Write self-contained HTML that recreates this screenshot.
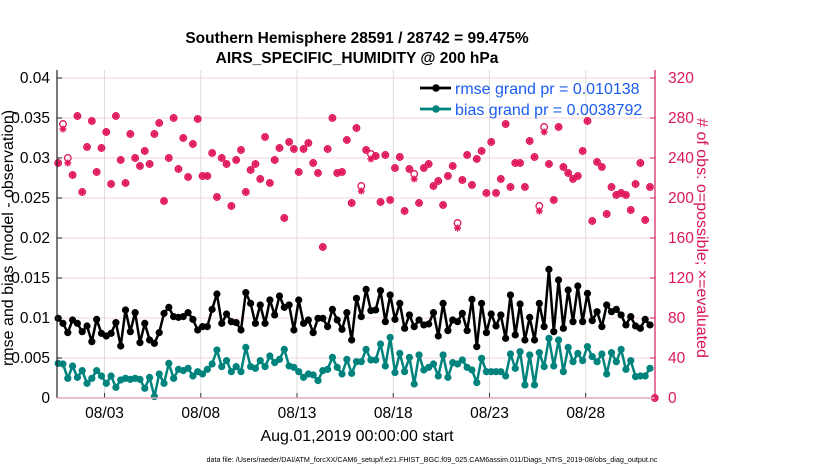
<!DOCTYPE html>
<html><head><meta charset="utf-8"><style>
body{margin:0;background:#fff;}
svg{display:block;font-family:"Liberation Sans",sans-serif;}
</style></head><body>
<svg id="chart" width="830" height="470" viewBox="0 0 830 470">
<g id="grid"></g>
<g id="marks"></g>
<g id="axes"></g>
<text x="357" y="43" text-anchor="middle" font-size="15.5" font-weight="bold">Southern Hemisphere 28591 / 28742 = 99.475%</text>
<text x="357" y="63" text-anchor="middle" font-size="15.5" font-weight="bold">AIRS_SPECIFIC_HUMIDITY @ 200 hPa</text>
<text transform="translate(13,238) rotate(-90)" text-anchor="middle" font-size="16">rmse and bias (model - observation)</text>
<text transform="translate(697,238) rotate(90)" text-anchor="middle" font-size="16" fill="#d9175a"># of obs: o=possible; ×=evaluated</text>
<text x="357" y="441" text-anchor="middle" font-size="16">Aug.01,2019 00:00:00 start</text>
<text x="432" y="462" text-anchor="middle" font-size="7.2">data file: /Users/raeder/DAI/ATM_forcXX/CAM6_setup/f.e21.FHIST_BGC.f09_025.CAM6assim.011/Diags_NTrS_2019-08/obs_diag_output.nc</text>
<g>
<g>
<line x1="420" y1="88" x2="451" y2="88" stroke="#000" stroke-width="2.8"/>
<circle cx="436" cy="88" r="3.8" fill="#000"/>
<text x="455" y="94" font-size="16" fill="#1a5cf0">rmse grand pr = 0.010138</text>
</g>
<g>
<line x1="420" y1="109" x2="451" y2="109" stroke="#00837d" stroke-width="2.8"/>
<circle cx="436" cy="109" r="3.8" fill="#00837d"/>
<text x="455" y="115" font-size="16" fill="#1a5cf0">bias grand pr = 0.0038792</text>
</g>
</g>
</svg>
<script>
const rmse=[.00996,.00933,.00817,.00975,.00933,.00829,.0090,.00704,.00983,.00808,.00775,.00808,.00942,.0065,.0110,.00829,.01067,.00692,.00933,.00725,.00683,.00817,.01058,.01133,.01017,.01008,.01017,.01067,.00983,.0085,.00892,.00892,.01108,.013,.00933,.0105,.00954,.00942,.0085,.01317,.01183,.00933,.01163,.00933,.01225,.01038,.01275,.01133,.01163,.0085,.01225,.00933,.00975,.00817,.00996,.00996,.00892,.01108,.00975,.00858,.01067,.00725,.01246,
.01017,.01358,.01092,.011,.01342,.00954,.01288,.00983,.01183,.00871,.01038,.00892,.00975,.00913,.00925,.01067,.00775,.01183,.00842,.00975,.00954,.01058,.00842,.01233,.00642,.01183,.00817,.0105,.009,.01038,.00746,.01288,.00788,.01175,.00725,.01008,.00725,.01183,.00892,.01608,.00829,.01475,.00871,.0135,.00954,.014,.00954,.01308,.00967,.01079,.00892,.01163,.01079,.01108,.01038,.00913,.01017,.009,.00871,.00983,.00913];
const bias=[.00433,.00425,.00246,.004,.00258,.00342,.00183,.00246,.00342,.00275,.00183,.00275,.00133,.00225,.00246,.00233,.00246,.00233,.00121,.00258,.00017,.003,.00183,.00433,.00246,.00358,.00342,.00371,.00275,.00329,.003,.00358,.00425,.006,.00392,.00467,.00329,.00392,.00329,.00633,.00392,.00371,.00467,.00392,.00525,.00442,.00483,.00608,.004,.00383,.00329,.00258,.003,.00288,.00217,.00342,.00358,.00508,.00383,.003,.00483,.00308,.00454,
.00454,.00608,.00475,.00475,.00675,.004,.00758,.00317,.00558,.00329,.00508,.00175,.00538,.0035,.00383,.00425,.00275,.00538,.00258,.00442,.00425,.00475,.00383,.0035,.00192,.00496,.00329,.00329,.00329,.00329,.00275,.0055,.00371,.00579,.00163,.00538,.00163,.00567,.00392,.00746,.004,.00725,.00329,.00633,.00454,.00558,.00467,.00642,.00517,.00454,.0055,.003,.00567,.00454,.00608,.00358,.00467,.00267,.00275,.00275,.00371];
const possible=[235,274,240,223,282,206,251,277,226,250,266,214,282,238,215,264,240,232,247,234,264,275,197,240,280,229,260,221,254,279,222,222,245,201,240,234,192,238,248,206,228,234,219,261,215,238,250,180,256,249,226,249,255,235,225,151,249,280,225,226,258,195,270,
212,248,244,242,196,243,198,230,241,187,229,224,195,230,234,212,217,193,222,232,175,218,243,213,239,247,205,256,205,219,274,211,235,235,211,257,241,192,271,234,198,271,231,225,219,222,247,277,177,236,231,184,211,203,205,203,188,214,235,178,211,0];
const evaluated=possible.map((v,i)=>[1,2,63,65,74,83,100,101].includes(i)?v-5:v);
const leftTicks=[0,0.005,0.01,0.015,0.02,0.025,0.03,0.035,0.04];
const leftTickLabels=["0","0.005","0.01","0.015","0.02","0.025","0.03","0.035","0.04"];
const rightTicks=[0,40,80,120,160,200,240,280,320];
const xTickDays=[2,7,12,17,22,27];
const xTickLabels=["08/03","08/08","08/13","08/18","08/23","08/28"];

const NS="http://www.w3.org/2000/svg";
const X0=57,X1=655,Y0=398,Y1=78;
const dayStart=-0.47,dayEnd=30.6;
const stepDays=0.25;
function xDay(d){return X0+(d-dayStart)/(dayEnd-dayStart)*(X1-X0);}
function xIdx(i){return xDay(dayStart+0.06+i*stepDays);}
function yL(v){return Y0-v/0.04*(Y0-Y1);}
function yR(v){return Y0-v/320*(Y0-Y1);}
function mk(tag,attrs,parent){const e=document.createElementNS(NS,tag);for(const k in attrs)e.setAttribute(k,attrs[k]);parent.appendChild(e);return e;}
const grid=document.getElementById('grid'),marks=document.getElementById('marks'),axes=document.getElementById('axes');

xTickDays.forEach((d,i)=>{
  const x=xDay(d);
  const g=mk('line',{x1:x,y1:70,x2:x,y2:Y0,stroke:'#dcdcdc','stroke-width':1},grid);
  
  
  const t=mk('line',{x1:x,y1:Y0,x2:x,y2:Y0-5,stroke:'#333','stroke-width':1},axes);
  
  
  const l=mk('text',{x:x,y:418,'text-anchor':'middle','font-size':15.5},axes);
  l.textContent=xTickLabels[i];
  
  
});
rightTicks.forEach((v,i)=>{
  const y=yR(v);
  if(v>0){const g=mk('line',{x1:X0,y1:y,x2:X1,y2:y,stroke:'#f0d4de','stroke-width':1},grid);
  
  }
  const t=mk('line',{x1:X1,y1:y,x2:X1-5,y2:y,stroke:'#d9175a'},axes);
  
  
  const l=mk('text',{x:668,y:y+5,'font-size':15.5,fill:'#d9175a'},axes);
  l.textContent=String(v);
  
  
});
leftTicks.forEach((v,i)=>{
  const y=yL(v);
  const t=mk('line',{x1:X0,y1:y,x2:X0+5,y2:y,stroke:'#222'},axes);
  
  
  const l=mk('text',{x:50,y:y+5,'text-anchor':'end','font-size':15.5},axes);
  l.textContent=leftTickLabels[i];
  
  
});
const la=mk('line',{x1:X0,y1:70,x2:X0,y2:Y0,stroke:'#222','stroke-width':1.2},axes);


const ra=mk('line',{x1:X1,y1:70,x2:X1,y2:Y0,stroke:'#d9175a','stroke-width':1.2},axes);


const ba=mk('line',{x1:X0,y1:Y0,x2:X1,y2:Y0,stroke:'#e0a8bb','stroke-width':1.5},axes);



possible.forEach((v,i)=>{
  const x=xIdx(i);
  const c=mk('circle',{cx:x,cy:yR(v),r:3.3,fill:'none',stroke:'#e0195a','stroke-width':1.3},marks);
  
  
  const y=yR(evaluated[i]);
  const s=mk('path',{d:`M${x-3.5},${y}H${x+3.5}M${x},${y-3.5}V${y+3.5}M${x-2.5},${y-2.5}L${x+2.5},${y+2.5}M${x-2.5},${y+2.5}L${x+2.5},${y-2.5}`,stroke:'#e0195a','stroke-width':1.4},marks);
  
  
});
function series(vals,color,name){
  const pts=vals.map((v,i)=>xIdx(i).toFixed(1)+','+yL(v).toFixed(1)).join(' ');
  const pl=mk('polyline',{points:pts,fill:'none',stroke:color,'stroke-width':2.5,'stroke-linejoin':'round'},marks);
  
  
  vals.forEach((v,i)=>{
    const c=mk('circle',{cx:xIdx(i),cy:yL(v),r:3.6,fill:color},marks);
    
    
  });
}
series(bias,'#00837d','bias');
series(rmse,'#000000','rmse');
</script>
</body></html>
